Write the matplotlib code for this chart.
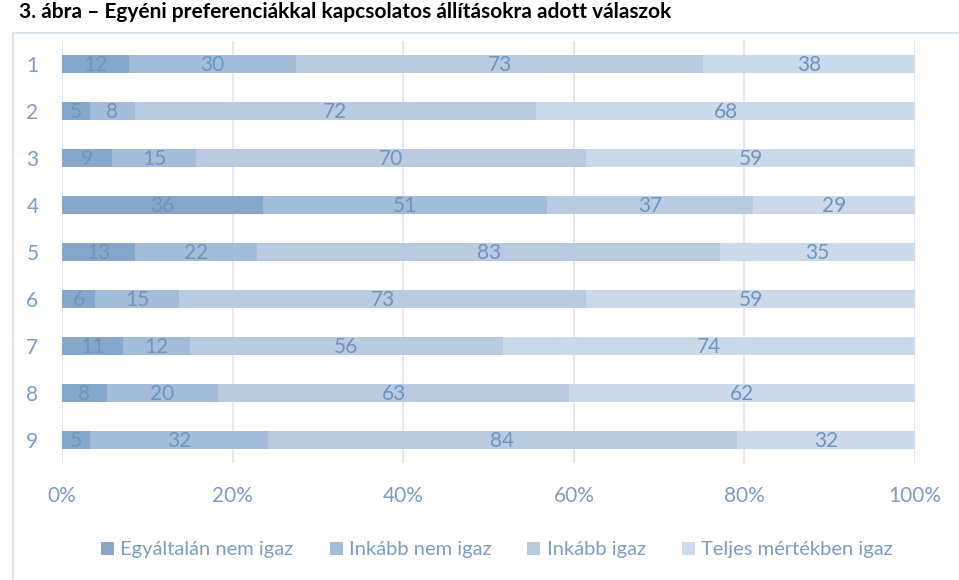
import numpy as np
import matplotlib.pyplot as plt
from matplotlib.patches import Rectangle

rows = ['1', '2', '3', '4', '5', '6', '7', '8', '9']
categories = ['Egyáltalán nem igaz', 'Inkább nem igaz', 'Inkább igaz', 'Teljes mértékben igaz']
values = [
    [12, 5, 9, 36, 13, 6, 11, 8, 5],
    [30, 8, 15, 51, 22, 15, 12, 20, 32],
    [73, 72, 70, 37, 83, 73, 56, 63, 84],
    [38, 68, 59, 29, 35, 59, 74, 62, 32],
]
colors = ['#87a7ca', '#a3bdd8', '#b8cbe0', '#cbdaea']
txt_col = '#6f94bd'
tick_col = '#7c9dc2'

plt.rcParams['font.family'] = ['Lato', 'DejaVu Sans']

fig = plt.figure(figsize=(9.59, 5.8), dpi=100)
ax = fig.add_axes([0.0647, 0.201, 0.8895, 0.729])

vals = np.array(values, dtype=float)
totals = vals.sum(axis=0)
pct = vals / totals * 100
y = np.arange(len(rows))
left = np.zeros(len(rows))
for i, cat in enumerate(categories):
    ax.barh(y, pct[i], left=left, height=0.39, color=colors[i], label=cat, zorder=2)
    for j in range(len(rows)):
        ax.text(left[j] + pct[i][j] / 2, y[j] + 0.03, str(values[i][j]), ha='center', va='center',
                fontsize=15, color=txt_col, zorder=3)
    left += pct[i]

ax.set_xlim(0, 100)
ax.set_ylim(len(rows) - 0.5, -0.5)
ax.set_xticks([0, 20, 40, 60, 80, 100])
ax.set_xticklabels(['0%', '20%', '40%', '60%', '80%', '100%'])
ax.set_yticks(y)
ax.set_yticklabels(rows)
ax.tick_params(axis='both', length=0, labelsize=15, labelcolor=tick_col)
ax.tick_params(axis='x', pad=16)
ax.tick_params(axis='y', pad=17)
ax.grid(axis='x', color='#dce6f0', linewidth=1.2, zorder=0)
for s in ax.spines.values():
    s.set_visible(False)

leg = fig.legend(loc='center', bbox_to_anchor=(0.518, 0.052), ncol=4, frameon=False,
                 fontsize=14.5, handlelength=0.65, handleheight=0.65, handletextpad=0.3,
                 columnspacing=1.8)
for t in leg.get_texts():
    t.set_color(tick_col)

# chart frame (partly outside the picture)
fig.patches.append(Rectangle((13 / 959, -0.05), 1.0, 1 - 33 / 580 + 0.05, transform=fig.transFigure,
                             fill=False, edgecolor='#d8e1eb', linewidth=1.2))

fig.text(0.02, 0.997, '3. ábra – Egyéni preferenciákkal kapcsolatos állításokra adott válaszok',
         fontsize=15, fontweight='bold', color='black', va='top', ha='left')

fig.savefig('out.png', dpi=100)
